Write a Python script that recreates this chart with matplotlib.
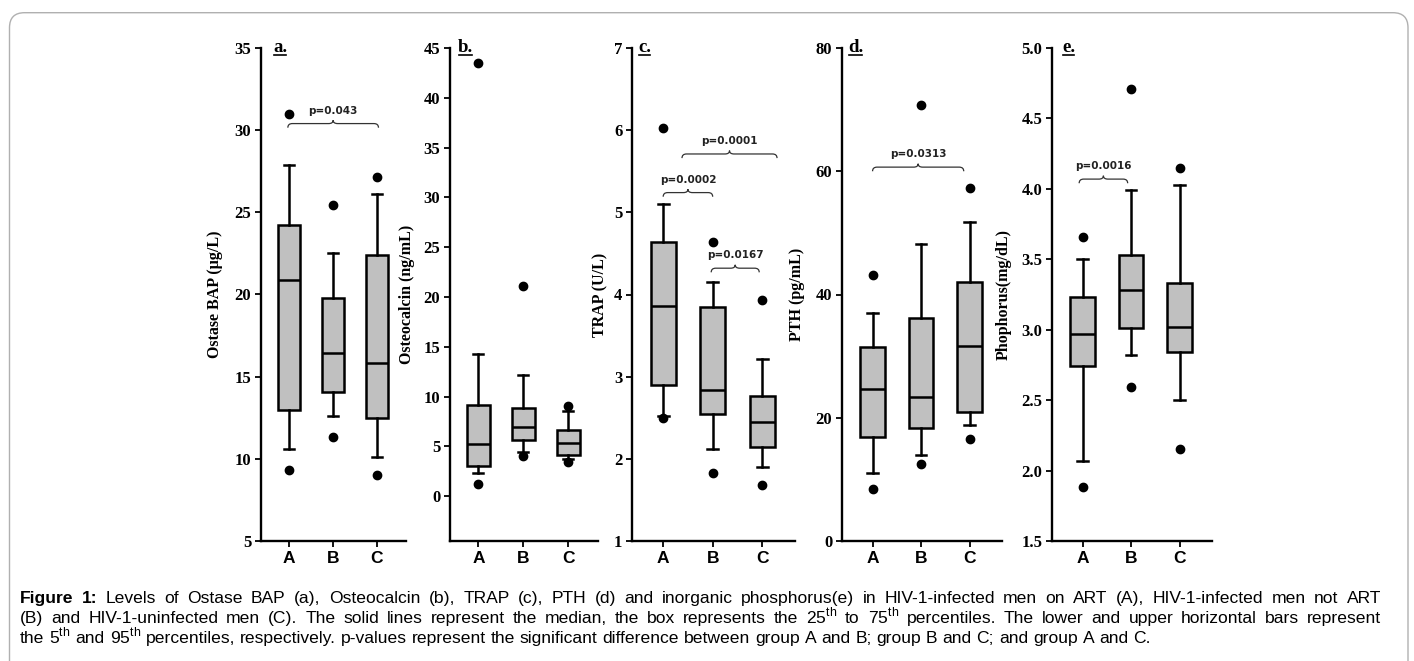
import matplotlib
matplotlib.use("Agg")
import matplotlib.pyplot as plt
from matplotlib.path import Path
from matplotlib.patches import PathPatch, FancyBboxPatch
from matplotlib.lines import Line2D
from matplotlib.transforms import IdentityTransform

plt.rcParams['mathtext.fontset'] = 'custom'
plt.rcParams['mathtext.rm'] = 'Liberation Sans'

groups = ["A", "B", "C"]

# a. Ostase BAP (ug/L)
bap_whishi = [27.9, 22.5, 26.1]
bap_q3 = [24.2, 19.8, 22.4]
bap_med = [20.9, 16.45, 15.85]
bap_q1 = [12.95, 14.05, 12.5]
bap_whislo = [10.6, 12.6, 10.1]
bap_fliers = [[31.0, 9.35], [25.45, 11.3], [27.15, 9.0]]

# b. Osteocalcin (ng/mL)
ost_whishi = [14.25, 12.15, 8.55]
ost_q3 = [9.15, 8.9, 6.6]
ost_med = [5.2, 6.95, 5.35]
ost_q1 = [3.05, 5.6, 4.15]
ost_whislo = [2.3, 4.4, 3.7]
ost_fliers = [[43.5, 1.25], [21.1, 4.0], [9.05, 3.4]]

# c. TRAP (U/L)
trap_whishi = [5.1, 4.15, 3.22]
trap_q3 = [4.64, 3.85, 2.76]
trap_med = [3.86, 2.84, 2.45]
trap_q1 = [2.9, 2.55, 2.15]
trap_whislo = [2.52, 2.12, 1.9]
trap_fliers = [[6.03, 2.5], [4.64, 1.83], [3.93, 1.68]]

# d. PTH (pg/mL)
pth_whishi = [37.0, 48.2, 51.8]
pth_q3 = [31.5, 36.2, 42.0]
pth_med = [24.7, 23.4, 31.6]
pth_q1 = [16.8, 18.4, 20.9]
pth_whislo = [11.0, 14.0, 18.9]
pth_fliers = [[43.1, 8.5], [70.7, 12.5], [57.3, 16.5]]

# e. Phosphorus (mg/dL)
pho_whishi = [3.5, 3.99, 4.03]
pho_q3 = [3.23, 3.53, 3.33]
pho_med = [2.97, 3.28, 3.02]
pho_q1 = [2.74, 3.01, 2.84]
pho_whislo = [2.07, 2.82, 2.5]
pho_fliers = [[3.66, 1.88], [4.71, 2.59], [4.15, 2.15]]

ylabels = ["Ostase BAP (\u00b5g/L)", "Osteocalcin (ng/mL)", "TRAP (U/L)", "PTH (pg/mL)", "Phophorus(mg/dL)"]
letters = ["a.", "b.", "c.", "d.", "e."]
yticks = [[5, 10, 15, 20, 25, 30, 35],
          [0, 5, 10, 15, 20, 25, 30, 35, 40, 45],
          [1, 2, 3, 4, 5, 6, 7],
          [0, 20, 40, 60, 80],
          [1.5, 2.0, 2.5, 3.0, 3.5, 4.0, 4.5, 5.0]]
ylims = [(5, 35), (-4.5, 45), (1, 7), (0, 80), (1.5, 5.0)]

# significance braces: (panel, from, to, level, label)
brackets = [(0, 0.98, 3.04, 30.15, "p=0.043"),
            (2, 1.0, 2.0, 5.19, "p=0.0002"),
            (2, 1.38, 3.3, 5.66, "p=0.0001"),
            (2, 1.97, 2.94, 4.27, "p=0.0167"),
            (3, 1.0, 2.88, 60.0, "p=0.0313"),
            (4, 0.93, 1.93, 4.04, "p=0.0016")]

caption_lines = [
    "Figure 1: Levels of Ostase BAP (a), Osteocalcin (b), TRAP (c), PTH (d) and inorganic phosphorus(e) in HIV-1-infected men on ART (A), HIV-1-infected men not ART",
    "(B) and HIV-1-uninfected men (C). The solid lines represent the median, the box represents the 25$^{\\mathrm{th}}$ to 75$^{\\mathrm{th}}$ percentiles. The lower and upper horizontal bars represent",
    "the 5$^{\\mathrm{th}}$ and 95$^{\\mathrm{th}}$ percentiles, respectively. p-values represent the significant difference between group A and B; group B and C; and group A and C.",
]

panels = [
    (bap_whishi, bap_q3, bap_med, bap_q1, bap_whislo, bap_fliers),
    (ost_whishi, ost_q3, ost_med, ost_q1, ost_whislo, ost_fliers),
    (trap_whishi, trap_q3, trap_med, trap_q1, trap_whislo, trap_fliers),
    (pth_whishi, pth_q3, pth_med, pth_q1, pth_whislo, pth_fliers),
    (pho_whishi, pho_q3, pho_med, pho_q1, pho_whislo, pho_fliers),
]

W, H = 1414, 661
fig = plt.figure(figsize=(W / 100, H / 100), dpi=100)

# layout in pixels: left edge of axis, group spacing, ylabel right-edge offset
ax_left = [261, 450, 632, 842, 1052]
spacing = [44, 45, 49.5, 48.5, 48.5]
lab_off = [38, 35, 24, 37, 40]
let_off = [12, 8, 6, 6, 10]
xlim = (0.37, 3.66)
top_px, bot_px = 48, 541

axes = []
for i, (hi, q3, med, q1, lo, fl) in enumerate(panels):
    wpx = (xlim[1] - xlim[0]) * spacing[i]
    ax = fig.add_axes([ax_left[i] / W, (H - bot_px) / H, wpx / W, (bot_px - top_px) / H])
    stats = [dict(med=med[k], q1=q1[k], q3=q3[k], whislo=lo[k], whishi=hi[k], fliers=fl[k])
             for k in range(3)]
    lw = 1.8
    ax.bxp(stats, positions=[1, 2, 3], widths=0.5, patch_artist=True, capwidths=0.22,
           boxprops=dict(facecolor="#c0c0c0", edgecolor="black", linewidth=lw),
           medianprops=dict(color="black", linewidth=lw),
           whiskerprops=dict(color="black", linewidth=lw),
           capprops=dict(color="black", linewidth=lw),
           flierprops=dict(marker="o", markerfacecolor="black", markeredgecolor="black",
                           markersize=6, clip_on=False))
    ax.set_xlim(*xlim)
    ax.set_ylim(*ylims[i])
    for s in ["top", "right"]:
        ax.spines[s].set_visible(False)
    for s in ["left", "bottom"]:
        ax.spines[s].set_linewidth(1.7)
    ax.set_xticks([1, 2, 3], groups, fontfamily="Liberation Sans", fontweight="bold", fontsize=12.5)
    if i == 4:
        labs = ["%.1f" % t for t in yticks[i]]
    else:
        labs = [str(t) for t in yticks[i]]
    ax.set_yticks(yticks[i], labs, fontfamily="Liberation Serif", fontweight="bold", fontsize=12)
    ax.tick_params(width=1.3, length=4, direction="out", pad=3)
    ax.set_ylabel(ylabels[i], fontfamily="Liberation Serif", fontweight="bold", fontsize=11.5)
    ax.yaxis.set_label_coords(-lab_off[i] / wpx, 0.5)
    ax.patch.set_visible(False)
    axes.append(ax)

# curly braces with p-values
for (pi, x1, x2, yb, lab) in brackets:
    ax = axes[pi]
    ppx = (bot_px - top_px) / (ylims[pi][1] - ylims[pi][0])
    h = 7.5 / ppx
    dx = 4.5 / spacing[pi]
    xm = (x1 + x2) / 2
    ym = yb + h * 0.55
    verts = [(x1, yb), (x1, ym), (x1 + dx, ym), (xm - dx, ym), (xm, ym), (xm, yb + h),
             (xm, ym), (xm + dx, ym), (x2 - dx, ym), (x2, ym), (x2, yb)]
    codes = [Path.MOVETO, Path.CURVE3, Path.CURVE3, Path.LINETO, Path.CURVE3, Path.CURVE3,
             Path.CURVE3, Path.CURVE3, Path.LINETO, Path.CURVE3, Path.CURVE3]
    ax.add_patch(PathPatch(Path(verts, codes), facecolor="none", edgecolor="#333333",
                           linewidth=0.9, clip_on=False))
    ax.text(xm, yb + 17 / ppx, lab, ha="center", va="center", fontsize=7.5,
            fontweight="bold", color="#222222", family="DejaVu Sans")

# panel letters, underlined
fig.canvas.draw()
renderer = fig.canvas.get_renderer()
inv = fig.transFigure.inverted()
for i, ax in enumerate(axes):
    t = fig.text((ax_left[i] + let_off[i]) / W, (H - top_px) / H, letters[i], ha="left",
                 va="center", fontfamily="Liberation Serif", fontweight="bold", fontsize=13.5)
    bb = t.get_window_extent(renderer)
    (fx0, fy0), (fx1, _) = inv.transform([(bb.x0 + 1, bb.y0 + 1.5), (bb.x1 - 1, bb.y0)])
    fig.add_artist(Line2D([fx0, fx1], [fy0, fy0], color="black", linewidth=1.2))

# caption, justified between left and right margins
cap_left, cap_right = 20, 1381
baselines = [603, 623, 643]
fs = 12.6
for li, line in enumerate(caption_lines):
    words = line.split(" ")
    items = []
    for wi, w in enumerate(words):
        bold = li == 0 and wi < 2
        t = fig.text(0, 0, w, fontsize=fs, family="Liberation Sans",
                     fontweight="bold" if bold else "normal", va="baseline", ha="left")
        items.append((t, t.get_window_extent(renderer).width))
    total = sum(w for _, w in items)
    sp = fig.text(0, 0, "a a", fontsize=fs, family="Liberation Sans")
    sp2 = fig.text(0, 0, "aa", fontsize=fs, family="Liberation Sans")
    space = sp.get_window_extent(renderer).width - sp2.get_window_extent(renderer).width
    sp.remove()
    sp2.remove()
    gap = space
    if li < len(caption_lines) - 1:
        gap = max(space * 0.6, (cap_right - cap_left - total) / (len(items) - 1))
    x = cap_left
    for t, w in items:
        t.set_position((x / W, (H - baselines[li]) / H))
        x += w + gap

# rounded frame around the figure
frame = FancyBboxPatch((9.5, -40), 1398.5, (H - 12.7) + 40,
                       boxstyle="round,pad=0,rounding_size=15", transform=IdentityTransform(),
                       facecolor="none", edgecolor="#b0b0b0", linewidth=1.0)
fig.add_artist(frame)

fig.savefig("out.png", dpi=100)
